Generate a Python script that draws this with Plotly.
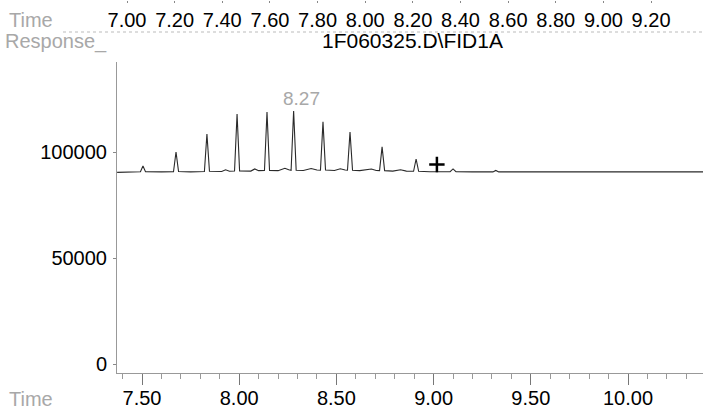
import plotly.graph_objects as go

# ---- data ----
trace_time = [7.372, 7.40, 7.45, 7.492, 7.505, 7.518, 7.60, 7.662, 7.675, 7.688,
              7.75, 7.821, 7.834, 7.847, 7.91, 7.93, 7.95, 7.976, 7.989, 8.002,
              8.06, 8.08, 8.10, 8.130, 8.143, 8.156, 8.20, 8.235, 8.255, 8.267,
              8.280, 8.293, 8.33, 8.37, 8.40, 8.418, 8.431, 8.444, 8.49, 8.52,
              8.545, 8.557, 8.570, 8.583, 8.62, 8.68, 8.705, 8.722, 8.735, 8.748,
              8.79, 8.83, 8.86, 8.897, 8.910, 8.923, 8.98, 9.05, 9.085, 9.100,
              9.115, 9.20, 9.305, 9.32, 9.335, 9.60, 9.70, 10.386]
trace_response = [90400, 90500, 90500, 90700, 93400, 90700, 90600, 90700, 100000, 90800,
                  90600, 90800, 108500, 90900, 90800, 91600, 90900, 91000, 117900, 91100,
                  91000, 92000, 91200, 91300, 118900, 91300, 91200, 92300, 91600, 91400,
                  119300, 91400, 91300, 92200, 91500, 91400, 114200, 91500, 91300, 92100,
                  91500, 91400, 109400, 91400, 91200, 92000, 91300, 91200, 102400, 91200,
                  91000, 91600, 91000, 90900, 96700, 90900, 90700, 90700, 90700, 92000,
                  90700, 90600, 90600, 91300, 90600, 90600, 90600, 90600]

peak_label_time = [8.280]
peak_label_resp = [119300]
peak_label_text = ["8.27"]

plus_time = [9.017]
plus_resp = [94100]

bottom_ticks = [7.5, 8.0, 8.5, 9.0, 9.5, 10.0]
bottom_ticktext = ["7.50", "8.00", "8.50", "9.00", "9.50", "10.00"]
top_ticks = [7.0, 7.2, 7.4, 7.6, 7.8, 8.0, 8.2, 8.4, 8.6, 8.8, 9.0, 9.2]
top_ticktext = ["7.00", "7.20", "7.40", "7.60", "7.80", "8.00", "8.20", "8.40", "8.60", "8.80", "9.00", "9.20"]
y_ticks = [0, 50000, 100000]
y_ticktext = ["0", "50000", "100000"]

title_text = "1F060325.D\\FID1A"

FONT = "Liberation Sans, Arial, sans-serif"
GRAY = "#a8a8a8"

fig = go.Figure()
fig.add_trace(go.Scatter(x=trace_time, y=trace_response, mode="lines",
                         line=dict(color="#2a2a2a", width=1.1), hoverinfo="skip",
                         showlegend=False))
fig.add_trace(go.Scatter(x=plus_time, y=plus_resp, mode="markers",
                         marker=dict(symbol="cross-thin", size=11, line=dict(color="black", width=2.5)),
                         showlegend=False))
# empty trace to bring up the upper time axis
fig.add_trace(go.Scatter(x=[], y=[], xaxis="x2", yaxis="y", showlegend=False))

for t, r, s in zip(peak_label_time, peak_label_resp, peak_label_text):
    fig.add_annotation(x=t, y=r, text=s, showarrow=False, xanchor="center", yanchor="middle",
                       xshift=8, yshift=13, font=dict(family=FONT, size=19, color=GRAY))

L, R, T, B = 117, 0, 0, 37
W, H = 703, 410
pw, ph = W - L - R, H - T - B

def px_x(x):
    return (x - L) / pw

def px_y(y):
    return (H - B - y) / ph

fig.update_layout(
    width=W, height=H,
    margin=dict(l=L, r=R, t=T, b=B, pad=0, autoexpand=False),
    paper_bgcolor="white", plot_bgcolor="white",
    font=dict(family=FONT, size=20, color="black"),
    xaxis=dict(range=[7.3714, 10.3858], tickvals=bottom_ticks, ticktext=bottom_ticktext,
               ticks="outside", ticklen=11, tickcolor="#777", tickwidth=1,
               minor=dict(dtick=0.1, tick0=7.5, ticks="outside", ticklen=5, tickcolor="#999"),
               showline=True, linecolor="#999", linewidth=1, showgrid=False, zeroline=False,
               ticklabelstandoff=-4, tickfont=dict(size=20)),
    xaxis2=dict(range=[6.958, 9.418], overlaying="x", anchor="free", position=1, side="bottom",
                tickvals=top_ticks, ticktext=top_ticktext, ticks="outside", ticklen=2,
                tickcolor="#888", showline=False, showgrid=False, zeroline=False,
                ticklabelstandoff=0, tickfont=dict(size=20)),
    yaxis=dict(domain=[0, px_y(62)], range=[-4245, 142450], tickvals=y_ticks, ticktext=y_ticktext,
               ticks="outside", ticklen=3, tickcolor="#888", showline=True, linecolor="#999",
               linewidth=1, showgrid=False, zeroline=False, tickfont=dict(size=20),
               ticklabelstandoff=2),
)

# header texts
fig.add_annotation(xref="paper", yref="paper", x=px_x(7), y=px_y(20), text="Time",
                   showarrow=False, xanchor="left", yanchor="middle",
                   font=dict(family=FONT, size=20, color=GRAY))
fig.add_annotation(xref="paper", yref="paper", x=px_x(3), y=px_y(42), text="Response_",
                   showarrow=False, xanchor="left", yanchor="middle",
                   font=dict(family=FONT, size=20, color=GRAY))
fig.add_annotation(xref="paper", yref="paper", x=px_x(412), y=px_y(41), text=title_text,
                   showarrow=False, xanchor="center", yanchor="middle",
                   font=dict(family=FONT, size=21, color="black"))
fig.add_annotation(xref="paper", yref="paper", x=px_x(7), y=px_y(399), text="Time",
                   showarrow=False, xanchor="left", yanchor="middle",
                   font=dict(family=FONT, size=20, color=GRAY))
fig.add_shape(type="line", xref="paper", yref="paper", x0=px_x(63), x1=1, y0=px_y(32), y1=px_y(32),
              line=dict(color="#bbbbbb", width=1, dash="dot"))

fig.write_html("out.html", config={"displayModeBar": False},
               post_script="document.body.style.margin='0px';document.body.style.overflow='hidden';")
